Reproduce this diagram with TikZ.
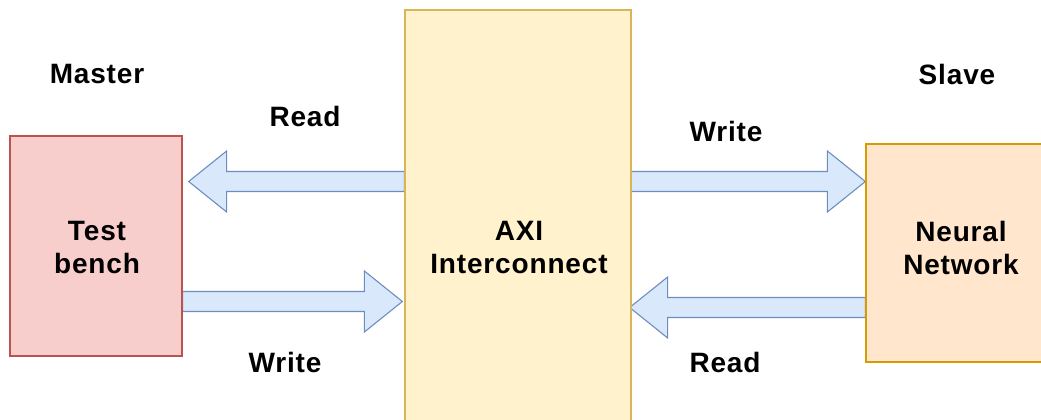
\documentclass[tikz,border=0pt]{standalone}
\usepackage{fontspec}
\setmainfont[LetterSpace=3]{Liberation Sans}
\usepackage{tikz}
\usetikzlibrary{calc,backgrounds}

\definecolor{tbfill}{HTML}{F8CECC}
\definecolor{tbline}{HTML}{B85450}
\definecolor{axifill}{HTML}{FFF2CC}
\definecolor{axiline}{HTML}{D6B656}
\definecolor{nnfill}{HTML}{FFE6CC}
\definecolor{nnline}{HTML}{D79B00}
\definecolor{busfill}{HTML}{DAE8FC}
\definecolor{busline}{HTML}{6C8EBF}

% fat horizontal arrow from #1 to #2 (tip at #2)
\newcommand{\blockarrow}[2]{%
  \filldraw[busarrow] let \p1=(#1), \p2=(#2), \n1={sign(\x2-\x1)} in
    (\x1,{\y1+10pt}) -- ({\x2-\n1*38pt},{\y1+10pt}) -- ({\x2-\n1*38pt},{\y1+30.5pt})
    -- (\x2,\y1) -- ({\x2-\n1*38pt},{\y1-30.5pt}) -- ({\x2-\n1*38pt},{\y1-10pt})
    -- (\x1,{\y1-10pt}) -- cycle;}

\begin{document}
\begin{tikzpicture}[x=1pt,y=-1pt,
    every node/.style={font=\fontsize{28}{33}\selectfont\bfseries},
    block/.style={draw,line width=1.3pt,inner sep=0pt,align=center},
    busarrow/.style={fill=busfill,draw=busline,line width=1.1pt,line join=miter},
    tag/.style={inner sep=0pt}]
    \useasboundingbox (0,0) rectangle (1041,420);

    \node[block,fill=tbfill,draw=tbline,minimum width=172pt,minimum height=220pt]
        (tb) at (96,246) {};
    \node[block,fill=axifill,draw=axiline,minimum width=226pt,minimum height=476pt]
        (axi) at (518,248) {};
    \node[block,fill=nnfill,draw=nnline,minimum width=190pt,minimum height=218pt]
        (nn) at (961,253) {};
    \node[align=center] (tbtext) at (97,248) {Test\\bench};
    \node[align=center] (axitext) at (519,248) {AXI\\Interconnect};
    \node[align=center] (nntext) at (961,248) {Neural\\Network};

    \begin{pgfonlayer}{background}
    \blockarrow{axi.west |- 0,181.5}{$(tb.east |- 0,181.5)+(6,0)$}
    \blockarrow{tb.east |- 0,301.5}{$(axi.west |- 0,301.5)+(-2,0)$}
    \blockarrow{$(axi.east |- 0,181.5)+(-4,0)$}{nn.west |- 0,181.5}
    \blockarrow{nn.west |- 0,307.5}{$(axi.east |- 0,307.5)+(-2,0)$}
    \end{pgfonlayer}

    \node[tag] (master) at (97,74) {Master};
    \node[tag] (slave) at (957,74) {Slave};
    \node[tag] (rdleft) at (305,116) {Read};
    \node[tag] (wrleft) at (285,362) {Write};
    \node[tag] (wrright) at (726,131) {Write};
    \node[tag] (rdright) at (725,362) {Read};
\end{tikzpicture}
\end{document}
